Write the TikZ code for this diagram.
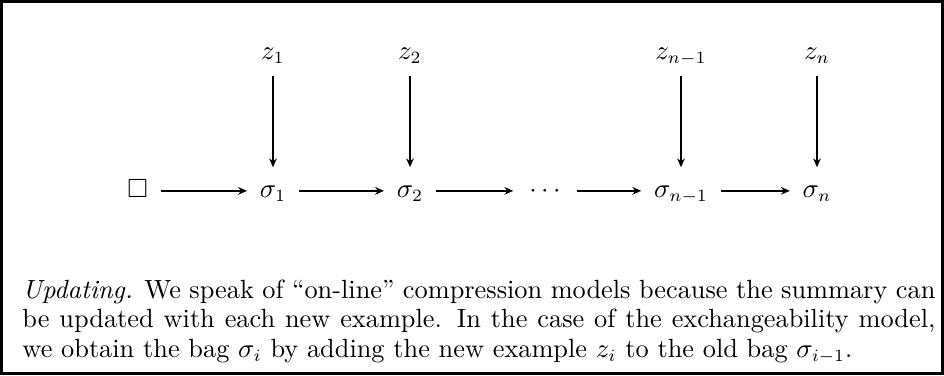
\documentclass[tikz,border=0pt]{standalone}
\usepackage{amssymb}
\usetikzlibrary{arrows.meta}
\begin{document}
\begin{tikzpicture}[x=0.4065pt,y=-0.4065pt,
  font=\fontsize{10.7}{12.8}\selectfont,
  top/.style={inner sep=0pt, anchor=base, text height=5pt, text depth=1.5pt},
  row/.style={inner sep=0pt, anchor=base, text height=7pt, text depth=2pt},
  line/.style={inner sep=0pt, anchor=base west},
  arr/.style={-{Stealth[length=3.6pt,width=3.1pt]}, line width=0.75pt, shorten >=5pt, shorten <=5pt},
  varr/.style={-{Stealth[length=3.6pt,width=3.1pt]}, line width=0.75pt, shorten <=5.3pt, shorten >=4.9pt}]
\useasboundingbox (0,0) rectangle (944,375);
\draw[line width=1.3pt] (1.6,1.6) rectangle (942.4,373.4);
% top labels
\node[top] (z1) at (273,59) {$z_1$};
\node[top] (z2) at (410,59) {$z_2$};
\node[top] (zn1) at (681,59) {$z_{n-1}$};
\node[top] (zn) at (817,59) {$z_n$};
% row
\node[row] (e) at (137.5,197) {$\square$};
\node[row] (s1) at (273,197) {$\sigma_1$};
\node[row] (s2) at (410,197) {$\sigma_2$};
\node[row, minimum width=15.4pt] (d) at (545,197) {$\cdots$};
\node[row] (sn1) at (681,197) {$\sigma_{n-1}$};
\node[row] (sn) at (817,197) {$\sigma_n$};
% arrows
\draw[varr] (z1) -- (s1);
\draw[varr] (z2) -- (s2);
\draw[varr] (zn1) -- (sn1);
\draw[varr] (zn) -- (sn);
\draw[arr] (e) -- (s1);
\draw[arr] (s1) -- (s2);
\draw[arr] (s2) -- (d);
\draw[arr] (d) -- (sn1);
\draw[arr] (sn1) -- (sn);
% paragraph
\node[line] (p1) at (22,298) {\makebox[371.1pt][s]{\textit{Updating.} We speak of ``on-line'' compression models because the summary can}};
\node[line] (p2) at (22,327.5) {\makebox[371.1pt][s]{be updated with each new example. In the case of the exchangeability model,}};
\node[line] (p3) at (22,357) {we obtain the bag $\sigma_i$ by adding the new example $z_i$ to the old bag $\sigma_{i-1}$.};
\end{tikzpicture}
\end{document}
